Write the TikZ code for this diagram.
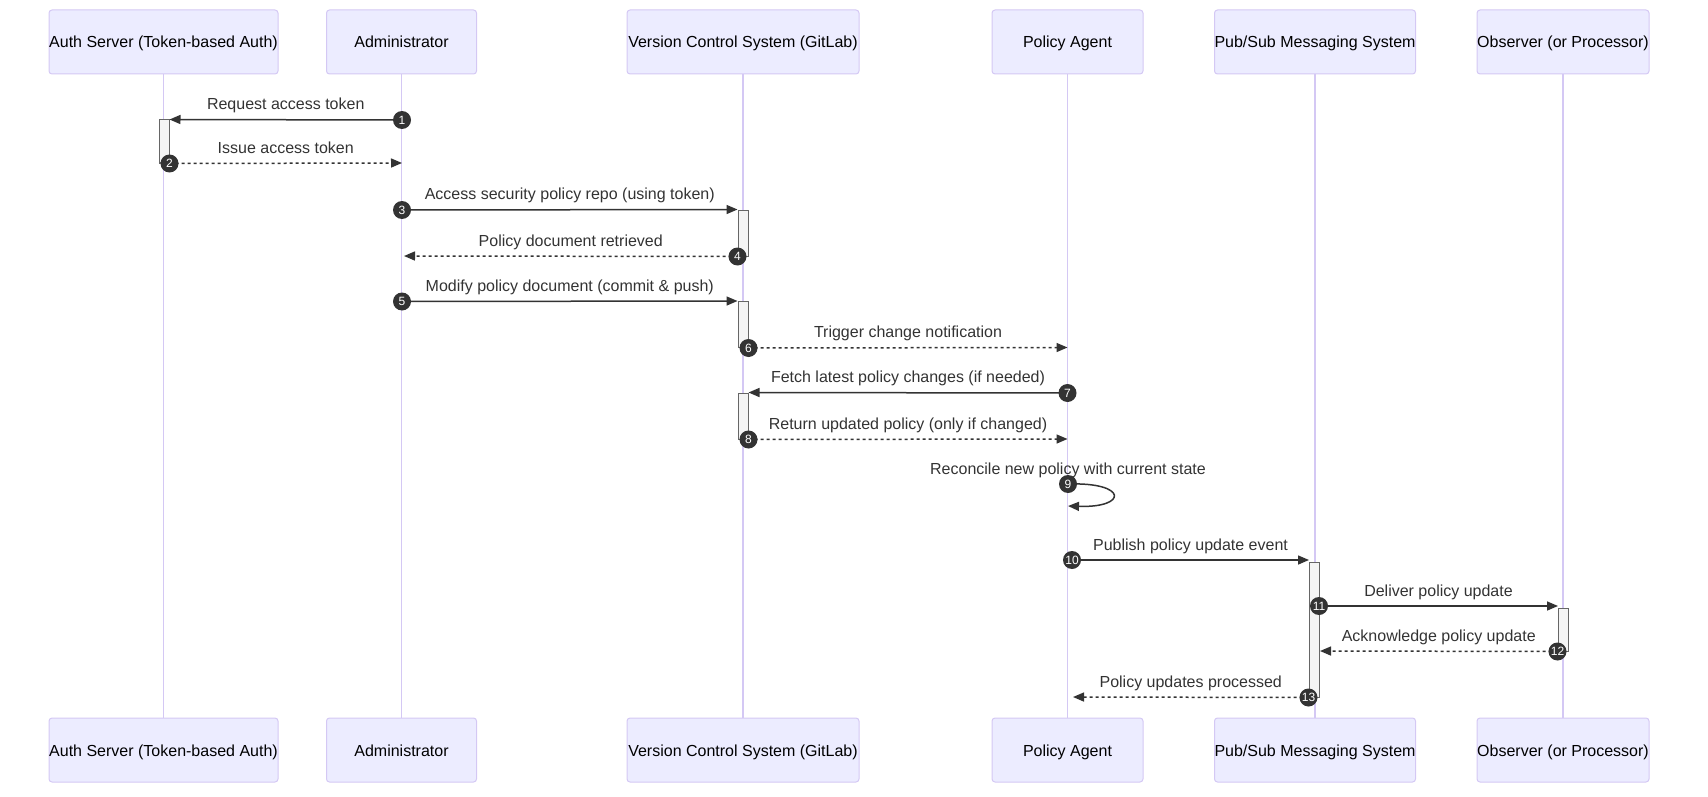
\documentclass[tikz,border=0pt]{standalone}
\usepackage{fontspec}
\setmainfont{Liberation Sans}
\usetikzlibrary{arrows.meta}
\definecolor{actorfill}{HTML}{ECECFF}
\definecolor{actorline}{HTML}{D4C8F4}
\definecolor{signal}{HTML}{333333}
\definecolor{actfill}{HTML}{F4F4F4}
\definecolor{actline}{HTML}{666666}
\tikzstyle{actor} = [rectangle, rounded corners=3pt, minimum height=64pt, inner sep=0pt, text height=14pt, text depth=2pt, text centered, draw=actorline, line width=1pt, fill=actorfill, font=\fontsize{16}{19}\selectfont]
\tikzstyle{lifeline} = [draw=actorline, line width=1.5pt]
\tikzstyle{activation} = [rectangle, minimum width=10pt, inner sep=0pt, draw=actline, line width=1pt, fill=actfill]
\tikzstyle{msg} = [draw=signal, line width=1.5pt, -{Triangle[length=11pt,width=9pt]}]
\tikzstyle{reply} = [msg, dash pattern=on 3pt off 3pt]
\tikzstyle{msglabel} = [anchor=base, yshift=10pt, inner sep=0pt, text=signal, font=\fontsize{16}{19}\selectfont]
\tikzstyle{stepnum} = [circle, minimum size=18pt, inner sep=0pt, fill=signal, text=white, font=\fontsize{12}{12}\selectfont]

\begin{document}
\begin{tikzpicture}[x=1pt, y=-1pt, node distance=708pt]
\useasboundingbox (0,0) rectangle (1708,797);

% participants
\node (auth) [actor, minimum width=229pt] at (163.5,42) {Auth Server (Token-based Auth)};
\node (admin) [actor, minimum width=150pt] at (401.5,42) {Administrator};
\node (vcs) [actor, minimum width=232pt] at (743,42) {Version Control System (GitLab)};
\node (agent) [actor, minimum width=151pt] at (1067.5,42) {Policy Agent};
\node (pubsub) [actor, minimum width=198pt] at (1315,42) {Pub/Sub Messaging System};
\node (observer) [actor, minimum width=172pt] at (1563,42) {Observer (or Processor)};

\node (authB) [actor, minimum width=229pt, below of=auth] {Auth Server (Token-based Auth)};
\node (adminB) [actor, minimum width=150pt, below of=admin] {Administrator};
\node (vcsB) [actor, minimum width=232pt, below of=vcs] {Version Control System (GitLab)};
\node (agentB) [actor, minimum width=151pt, below of=agent] {Policy Agent};
\node (pubsubB) [actor, minimum width=198pt, below of=pubsub] {Pub/Sub Messaging System};
\node (observerB) [actor, minimum width=172pt, below of=observer] {Observer (or Processor)};

% lifelines
\draw [lifeline] (auth) -- (authB);
\draw [lifeline] (admin) -- (adminB);
\draw [lifeline] (vcs) -- (vcsB);
\draw [lifeline] (agent) -- (agentB);
\draw [lifeline] (pubsub) -- (pubsubB);
\draw [lifeline] (observer) -- (observerB);

% activations
\node (actA) [activation, minimum height=43pt] at (164,141.5) {};
\node (actC1) [activation, minimum height=46pt] at (743,233) {};
\node (actC2) [activation, minimum height=46pt] at (743,324.5) {};
\node (actC3) [activation, minimum height=46pt] at (743,416) {};
\node (actE) [activation, minimum height=135pt] at (1314,629.5) {};
\node (actF) [activation, minimum height=43pt] at (1563,629.5) {};

% message starts
\coordinate (p1) at (402,120);
\coordinate (p2) at (actA.south east);
\coordinate (p3) at (402,210);
\coordinate (p4) at (actC1.south west);
\coordinate (p5) at (402,301.5);
\coordinate (p6) at (actC2.south east);
\coordinate (p7) at (1067.5,393);
\coordinate (p8) at (actC3.south east);
\coordinate (p9) at (1068,484);
\coordinate (p10) at (1072,560);
\coordinate (p11) at (1319,606);
\coordinate (p12) at (actF.south west);
\coordinate (p13) at (actE.south west);
% message ends
\coordinate (e2) at (402,163);
\coordinate (e4) at (404,256);
\coordinate (e6) at (1067.5,347.5);
\coordinate (e8) at (1067.5,439);
\coordinate (e9) at (1068,506);
\coordinate (e10) at (1309,560);
\coordinate (e11) at (1558,606);
\coordinate (e12) at (1320,651);
\coordinate (e13) at (1073,697);

\draw [msg] (p1) -- node[msglabel] {Request access token} (actA.north east);
\draw [reply] (p2) -- node[msglabel] {Issue access token} (e2);
\draw [msg] (p3) -- node[msglabel] {Access security policy repo (using token)} (actC1.north west);
\draw [reply] (p4) -- node[msglabel] {Policy document retrieved} (e4);
\draw [msg] (p5) -- node[msglabel] {Modify policy document (commit \& push)} (actC2.north west);
\draw [reply] (p6) -- node[msglabel] {Trigger change notification} (e6);
\draw [msg] (p7) -- node[msglabel] {Fetch latest policy changes (if needed)} (actC3.north east);
\draw [reply] (p8) -- node[msglabel] {Return updated policy (only if changed)} (e8);
\draw [msg] (p9) .. controls +(60,-2) and +(60,2) .. (e9);
\node (reconcile) [msglabel] at (p9) {Reconcile new policy with current state};
\draw [msg] (p10) -- node[msglabel] {Publish policy update event} (e10);
\draw [msg] (p11) -- node[msglabel] {Deliver policy update} (e11);
\draw [reply] (p12) -- node[msglabel] {Acknowledge policy update} (e12);
\draw [reply] (p13) -- node[msglabel] {Policy updates processed} (e13);

% sequence numbers
\foreach \i in {1,...,13}
  \node (s\i) [stepnum] at (p\i) {\i};

\end{tikzpicture}
\end{document}
